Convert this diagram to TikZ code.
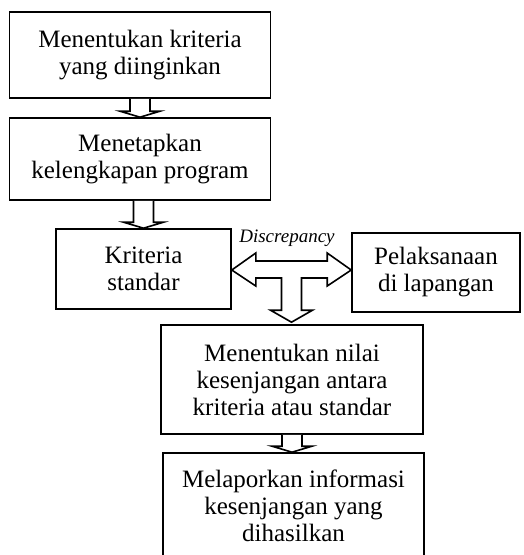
\documentclass[tikz,border=0pt]{standalone}
\usepackage{fontspec}
\setmainfont{Liberation Serif}
\usetikzlibrary{calc}
\tikzset{
  box/.style={draw, line width=1.6pt, align=center, inner sep=0pt, font=\fontsize{25}{27}\selectfont},
  hollow/.style={draw, line width=1.6pt, line join=miter, fill=white},
}
% block arrow pointing down: from #1.south to #2.north, placed at the x of #3
\newcommand{\hollowdown}[3]{%
  \draw[hollow] let \p1=(#1.south), \p2=(#2.north), \p3=(#3) in
    (\x3-10pt,\y1) -- (\x3-10pt,\y2+6pt) -- (\x3-20pt,\y2+6pt) -- (\x3,\y2)
    -- (\x3+20pt,\y2+6pt) -- (\x3+10pt,\y2+6pt) -- (\x3+10pt,\y1);}
\begin{document}
\begin{tikzpicture}[x=1pt,y=-1pt]
\useasboundingbox (0,0) rectangle (524,555);
\node[box, minimum width=261pt, minimum height=86pt] (menentukan) at (140,55) {Menentukan kriteria\\yang diinginkan};
\node[box, minimum width=261pt, minimum height=82pt] (menetapkan) at (140,159) {Menetapkan\\kelengkapan program};
\node[box, minimum width=175pt, minimum height=80pt] (kriteria) at (143.5,269) {Kriteria\\standar};
\node[box, minimum width=168pt, minimum height=79pt] (pelaksanaan) at (436,272.5) {Pelaksanaan\\di lapangan};
\node[box, minimum width=262pt, minimum height=109pt] (nilai) at (292,379.5) {Menentukan nilai\\kesenjangan antara\\kriteria atau standar};
\node[box, minimum width=261pt, minimum height=105pt] (laporan) at (293.5,505.5) {Melaporkan informasi\\kesenjangan yang\\dihasilkan};
\node[font=\fontsize{19}{21}\selectfont\itshape] (disc) at (287,238) {Discrepancy};
\hollowdown{menentukan}{menetapkan}{menentukan.south}
\hollowdown{menetapkan}{kriteria}{kriteria.north}
\hollowdown{nilai}{laporan}{nilai.south}
% double arrow with the branch down to the gap
\draw[hollow] let \p1=(kriteria.east), \p2=(pelaksanaan.west), \p3=(nilai.north),
    \p4=($(kriteria.east)!0.5!(pelaksanaan.west)$) in
  (\x1,\y1-1pt) -- (\x1+24pt,\y1+16pt) -- (\x1+24pt,\y1+8pt) -- (\x2-24pt,\y1+8pt)
  -- (\x2-24pt,\y1+16pt) -- (\x2,\y1-1pt) -- (\x2-24pt,\y1-17pt) -- (\x2-24pt,\y1-9pt)
  -- (\x4+10pt,\y1-9pt) -- (\x4+10pt,\y3+14pt) -- (\x4+21pt,\y3+14pt) -- (\x4,\y3+2pt)
  -- (\x4-21pt,\y3+14pt) -- (\x4-10pt,\y3+14pt) -- (\x4-10pt,\y1-9pt)
  -- (\x1+24pt,\y1-9pt) -- (\x1+24pt,\y1-17pt) -- cycle;
\end{tikzpicture}
\end{document}
